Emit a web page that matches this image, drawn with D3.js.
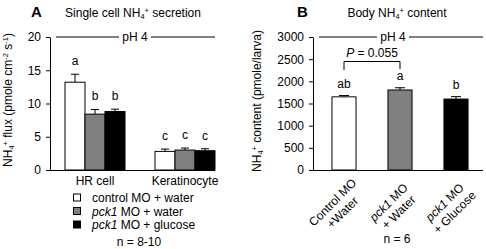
<!DOCTYPE html>
<html><head><meta charset="utf-8">
<script src="https://cdn.jsdelivr.net/npm/d3@7"></script>
<style>
body{margin:0;background:#fff;}
svg{display:block;font-family:"Liberation Sans",Arial,sans-serif;}
text{fill:#000;}
</style></head><body>
<svg id="c" width="486" height="249"></svg>
<script>
// ---------- data ----------
const catsA = ["HR cell", "Keratinocyte"];
const seriesA = ["control MO + water", "pck1 MO + water", "pck1 MO + glucose"];
const valuesA = [[13.2, 8.4, 8.8], [2.8, 3.0, 2.9]];
const errorsA = [[1.2, 0.7, 0.35], [0.35, 0.3, 0.3]];
const lettersA = [["a", "b", "b"], ["c", "c", "c"]];
const ticksA = [0, 5, 10, 15, 20];

const catsB = [["Control MO", "+Water"], ["pck1 MO", "+ Water"], ["pck1 MO", "+ Glucose"]];
const valuesB = [1650, 1805, 1600];
const errorsB = [30, 50, 55];
const lettersB = ["ab", "a", "b"];
const ticksB = [0, 500, 1000, 1500, 2000, 2500, 3000];

const fills = ["#ffffff", "#808080", "#000000"];

const svg = d3.select("#c");
const FS = 12;

function rich(sel, segs) {
  segs.forEach(([t, m]) => {
    const ts = sel.append("tspan").text(t);
    if (m === "sub") ts.attr("font-size", FS * 0.62).attr("baseline-shift", "-25%");
    if (m === "sup") ts.attr("font-size", FS * 0.62).attr("baseline-shift", "55%");
    if (m === "i") ts.attr("font-style", "italic");
  });
}
function italicLabel(sel, s) {
  if (s.startsWith("pck1")) { rich(sel, [["pck1", "i"], [s.slice(4), "n"]]); }
  else sel.text(s);
}

// ---------- Panel A ----------
const yA = d3.scaleLinear().domain([0, 20]).range([170, 37]);
const xA = d3.scaleBand().domain(catsA).range([50, 230]).paddingInner(1/3).paddingOuter(1/6);
const xA2 = d3.scaleBand().domain(d3.range(3)).range([0, xA.bandwidth()]);

const gA = svg.append("g");
gA.append("g").attr("transform", "translate(50,0)")
  .call(d3.axisLeft(yA).tickValues(ticksA).tickSize(4).tickSizeOuter(0).tickPadding(5))
  .call(g => g.selectAll("text").attr("font-size", FS).attr("font-family", null).attr("fill", "#000"))
  .call(g => g.selectAll("line,path").attr("stroke", "#000"));
gA.append("g").attr("transform", "translate(0,170)")
  .call(d3.axisBottom(xA).tickSize(0).tickPadding(6))
  .call(g => g.select(".domain").attr("d", "M50,0.5H215").attr("stroke", "#000"))
  .call(g => g.selectAll("text").attr("font-size", FS).attr("font-family", null).attr("fill", "#000"));

catsA.forEach((c, ci) => {
  valuesA[ci].forEach((v, si) => {
    const x0 = xA(c) + xA2(si), w = xA2.bandwidth(), cx = x0 + w / 2;
    const top = yA(v + errorsA[ci][si]);
    gA.append("line").attr("x1", cx).attr("x2", cx).attr("y1", yA(v)).attr("y2", top).attr("stroke", "#000");
    gA.append("line").attr("x1", cx - 4).attr("x2", cx + 4).attr("y1", top).attr("y2", top).attr("stroke", "#000");
    gA.append("rect").attr("x", x0).attr("y", yA(v)).attr("width", w).attr("height", yA(0) - yA(v))
      .attr("fill", fills[si]).attr("stroke", "#000").attr("stroke-width", 1);
    gA.append("text").attr("x", cx).attr("y", top - 9).attr("text-anchor", "middle").attr("font-size", FS).text(lettersA[ci][si]);
  });
});
gA.append("line").attr("x1", 56).attr("x2", 215).attr("y1", yA(20)).attr("y2", yA(20)).attr("stroke", "#000");
gA.append("rect").attr("x", 119).attr("y", yA(20) - 7).attr("width", 32).attr("height", 14).attr("fill", "#fff");
gA.append("text").attr("x", 135).attr("y", yA(20) + 4).attr("text-anchor", "middle").attr("font-size", FS).text("pH 4");
gA.append("text").attr("x", 31).attr("y", 17).attr("font-size", 15).attr("font-weight", "bold").text("A");
rich(gA.append("text").attr("x", 133).attr("y", 17).attr("text-anchor", "middle").attr("font-size", FS),
  [["Single cell NH", "n"], ["4", "sub"], ["+", "sup"], [" secretion", "n"]]);
rich(gA.append("text").attr("transform", "translate(12,100) rotate(-90)").attr("text-anchor", "middle").attr("font-size", FS),
  [["NH", "n"], ["4", "sub"], ["+", "sup"], [" flux (pmole cm", "n"], ["-2", "sup"], [" s", "n"], ["-1", "sup"], [")", "n"]]);
seriesA.forEach((s, i) => {
  const y = 198 + i * 13.5;
  gA.append("rect").attr("x", 73.5).attr("y", y - 4).attr("width", 7).attr("height", 7).attr("fill", fills[i]).attr("stroke", "#000");
  italicLabel(gA.append("text").attr("x", 92).attr("y", y + 4).attr("font-size", FS), s);
});
gA.append("text").attr("x", 139).attr("y", 246).attr("text-anchor", "middle").attr("font-size", FS).text("n = 8-10");

// ---------- Panel B ----------
const yB = d3.scaleLinear().domain([0, 3000]).range([170, 37]);
const idxB = d3.range(catsB.length);
const xB = d3.scaleBand().domain(idxB).range([316, 484]).paddingInner(0.57).paddingOuter(0.285);
const gB = svg.append("g");
gB.append("g").attr("transform", "translate(313,0)")
  .call(d3.axisLeft(yB).tickValues(ticksB).tickFormat(d3.format("d")).tickSize(4).tickSizeOuter(0).tickPadding(5))
  .call(g => g.selectAll("text").attr("font-size", FS).attr("font-family", null).attr("fill", "#000"))
  .call(g => g.selectAll("line,path").attr("stroke", "#000"));
gB.append("g").attr("transform", "translate(0,170)")
  .call(d3.axisBottom(xB).tickSize(0).tickFormat(""))
  .call(g => g.select(".domain").attr("d", "M313,0.5H483").attr("stroke", "#000"));

idxB.forEach(i => {
  const v = valuesB[i], x0 = xB(i), w = xB.bandwidth(), cx = x0 + w / 2;
  const top = yB(v + errorsB[i]);
  gB.append("line").attr("x1", cx).attr("x2", cx).attr("y1", yB(v)).attr("y2", top).attr("stroke", "#000");
  gB.append("line").attr("x1", cx - 5).attr("x2", cx + 5).attr("y1", top).attr("y2", top).attr("stroke", "#000");
  gB.append("rect").attr("x", x0).attr("y", yB(v)).attr("width", w).attr("height", yB(0) - yB(v))
    .attr("fill", fills[i]).attr("stroke", "#000");
  gB.append("text").attr("x", cx).attr("y", top - 8).attr("text-anchor", "middle").attr("font-size", FS).text(lettersB[i]);
  const lg = gB.append("g").attr("transform", `translate(${cx},170) rotate(-45)`);
  catsB[i].forEach((ln, li) => {
    italicLabel(lg.append("text").attr("x", -31).attr("y", 19 + li * 14).attr("text-anchor", "middle").attr("font-size", FS), ln);
  });
});
const bx1 = xB(0) + xB.bandwidth() / 2, bx2 = xB(1) + xB.bandwidth() / 2;
gB.append("path").attr("d", `M${bx1},70V61.5H${bx2}V69`).attr("fill", "none").attr("stroke", "#000");
rich(gB.append("text").attr("x", (bx1 + bx2) / 2).attr("y", 57).attr("text-anchor", "middle").attr("font-size", FS),
  [["P", "i"], [" = 0.055", "n"]]);
gB.append("line").attr("x1", 319).attr("x2", 483).attr("y1", yB(3000)).attr("y2", yB(3000)).attr("stroke", "#000");
gB.append("rect").attr("x", 377).attr("y", yB(3000) - 7).attr("width", 32).attr("height", 14).attr("fill", "#fff");
gB.append("text").attr("x", 393).attr("y", yB(3000) + 4).attr("text-anchor", "middle").attr("font-size", FS).text("pH 4");
gB.append("text").attr("x", 297).attr("y", 17).attr("font-size", 15).attr("font-weight", "bold").text("B");
rich(gB.append("text").attr("x", 397).attr("y", 17).attr("text-anchor", "middle").attr("font-size", FS),
  [["Body NH", "n"], ["4", "sub"], ["+", "sup"], [" content", "n"]]);
rich(gB.append("text").attr("transform", "translate(261,101) rotate(-90)").attr("text-anchor", "middle").attr("font-size", FS),
  [["NH", "n"], ["4", "sub"], ["+", "sup"], [" content (pmole/larva)", "n"]]);
gB.append("text").attr("x", 397).attr("y", 243).attr("text-anchor", "middle").attr("font-size", FS).text("n = 6");
</script>
</body></html>
